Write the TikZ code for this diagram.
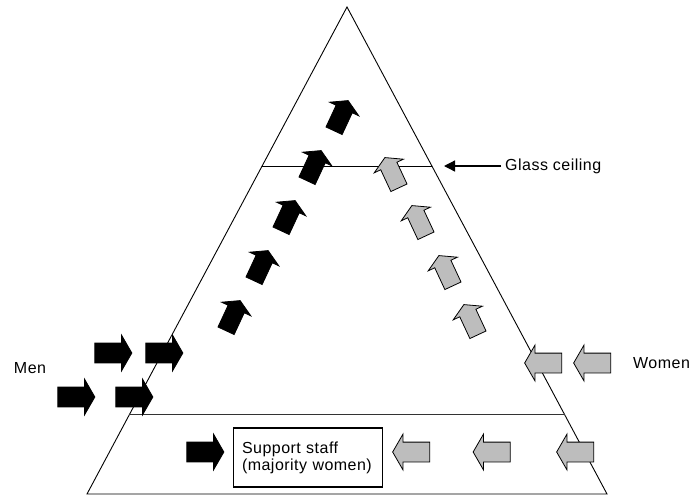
\documentclass[tikz,border=0pt]{standalone}
\usepackage{fontspec}
\setmainfont{Liberation Sans}[LetterSpace=3]
\usepackage{tikz}
\usetikzlibrary{shapes.arrows,calc,arrows.meta}
\definecolor{womengray}{gray}{0.74}
\newcommand*\arrowlen{37pt}
\newcommand*\shafthalf{9.5pt}
\tikzset{
    blockarrow/.style = {single arrow, draw=black, line width=0.8pt,
                    minimum height=\arrowlen, inner xsep=0pt, inner ysep=\shafthalf,
                    single arrow head extend=8pt, single arrow tip angle=120},
    manarrow/.style   = {blockarrow, fill=black},
    womanarrow/.style = {blockarrow, fill=womengray, shape border rotate=180},
    climbman/.style   = {blockarrow, fill=black, rotate=65, scale=0.9},
    climbwoman/.style = {blockarrow, fill=womengray, rotate=115, scale=0.9},
    plaintext/.style  = {font=\fontsize{16}{17}\selectfont, inner sep=0pt},
    edge/.style       = {line width=0.9pt, line join=miter},
    floorline/.style  = {line width=1.2pt, black!80},
    staffbox/.style   = {draw, line width=1.3pt, align=left, plaintext,
                    text width=132pt, inner xsep=8.5pt, minimum height=59pt},
    pointer/.style    = {line width=1.3pt, -{Triangle[length=11pt,width=11pt]}},
  }

\begin{document}
\begin{tikzpicture}[x=1pt,y=-1pt]
    \useasboundingbox (0,0) rectangle (692,501);

    % pyramid corners
    \coordinate (top) at (347,7);
    \coordinate (bl)  at (87,494);
    \coordinate (br)  at (607,494);
    \draw[edge] (bl) -- (top) -- (br) -- cycle;

    % glass ceiling and support-staff floor
    \coordinate (ceilL)  at ($(top)!0.327!(bl)$);
    \coordinate (ceilR)  at ($(top)!0.327!(br)$);
    \coordinate (floorL) at ($(top)!0.837!(bl)$);
    \coordinate (floorR) at ($(top)!0.837!(br)$);
    \draw[line width=0.8pt] (ceilL) -- (ceilR);
    \draw[floorline] (floorL) -- (floorR);

    % support staff box
    \node[staffbox] (staff) at (308,457.5) {Support staff\\(majority women)};

    % glass ceiling label with its pointer
    \node[plaintext, anchor=west, inner xsep=4pt] (glass) at (501,166) {Glass ceiling};
    \coordinate (ceilTip) at (444,166);
    \draw[pointer] (glass.west) -- (ceilTip);

    % side labels
    \node[plaintext] (men) at (30,368) {Men};
    \node[plaintext, anchor=west] (women) at (633,363) {Women};

    % men coming in from the left
    \foreach \x/\y [count=\i from 1] in {110.5/353, 161.5/353, 73.5/397, 131.5/397, 202.5/452} {
        \node[manarrow] (man\i) at (\x,\y) {};
    }
    % men climbing
    \foreach \x/\y [count=\i from 1] in {340/118, 313/168, 287/218, 260/268, 232/318} {
        \node[climbman] (up\i) at (\x,\y) {};
    }

    % women coming in from the right
    \foreach \x/\y [count=\j from 1] in {546/363, 595/363, 414/452, 494.5/452, 578/452} {
        \node[womanarrow] (woman\j) at (\x,\y) {};
    }
    % women climbing, stopped at the ceiling
    \foreach \x/\y [count=\j from 1] in {393/175, 420/223, 447/273, 472/322} {
        \node[climbwoman] (rise\j) at (\x,\y) {};
    }
\end{tikzpicture}
\end{document}
